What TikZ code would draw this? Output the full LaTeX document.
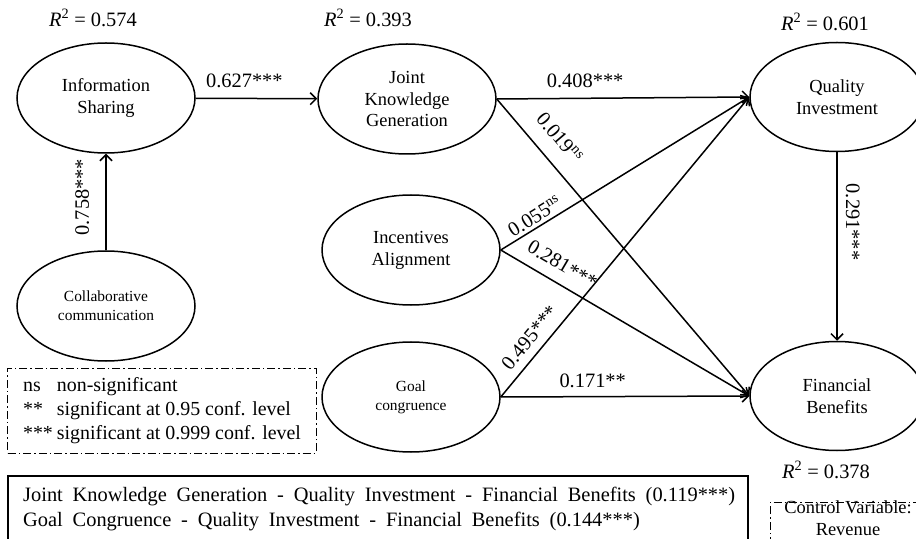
\documentclass[tikz,border=0pt]{standalone}
\usepackage{fontspec}
\setmainfont{Liberation Serif}
\usetikzlibrary{arrows.meta,shapes.geometric}
\tikzset{>={Straight Barb[length=6bp,width=12bp]}}
\tikzset{
	latent/.style={ellipse, draw, line width=1.5bp, minimum width=178bp, minimum height=110bp,
		inner sep=0pt, align=center, font=\fontsize{18.5}{22}\selectfont},
	smalltext/.style={font=\fontsize{15.5}{19}\selectfont},
	coef/.style={font=\fontsize{20.5}{24}\selectfont, inner sep=2bp},
	rsq/.style={font=\fontsize{20.5}{24}\selectfont},
	dashdot/.style={line width=1bp, dash pattern=on 8bp off 3bp on 1.5bp off 3bp},
	medline/.style={anchor=west, inner sep=0pt, font=\fontsize{20.5}{25}\selectfont},
}

\begin{document}
\begin{tikzpicture}[x=1bp, y=-1bp, link/.style={->, line width=1.5bp}]
	\useasboundingbox (0,0) rectangle (916,539);
	% constructs
	\node[latent] (is) at (106, 98) {Information\\Sharing};
	\node[latent, smalltext] (cc) at (106, 306) {Collaborative\\communication};
	\node[latent] (jkg) at (407, 99) {Joint\\Knowledge\\Generation};
	\node[latent] (ia) at (411, 250) {Incentives\\Alignment};
	\node[latent, smalltext] (gc) at (411, 397) {Goal\\congruence};
	\node[latent, minimum width=174bp, minimum height=109bp] (qi) at (837, 97) {Quality\\Investment};
	\node[latent, minimum width=174bp, minimum height=109bp] (fb) at (837, 396) {Financial\\Benefits};
	% explained variance
	\node[rsq] (r1) at (93, 18) {\textit{R}\textsuperscript{2} = 0.574};
	\node[rsq] (r2) at (368, 18) {\textit{R}\textsuperscript{2} = 0.393};
	\node[rsq] (r3) at (825, 22) {\textit{R}\textsuperscript{2} = 0.601};
	\node[rsq] (r4) at (826, 470) {\textit{R}\textsuperscript{2} = 0.378};
	% paths
	\draw[link] (cc) -- node[coef, sloped, above=14bp, pos=.55] {0.758***} (is);
	\draw[link] (is) -- node[coef, above=8bp, pos=.4] {0.627***} (jkg);
	\draw[link] (jkg.east) -- node[coef, above=8bp, pos=.35] {0.408***} (qi.west);
	\draw[link] (jkg.east) -- node[coef, sloped, above=13bp, pos=.18] {0.019\textsuperscript{ns}} (fb.west);
	\draw[link] (ia.east) -- node[coef, sloped, above=1bp, pos=.16] {0.055\textsuperscript{ns}} (qi.west);
	\draw[link] (ia.east) -- node[coef, sloped, above=9bp, pos=.21] {0.281***} (fb.west);
	\draw[link] (gc.east) -- node[coef, sloped, above=6bp, pos=.165] {0.495***} (qi.west);
	\draw[link] (gc.east) -- node[coef, above=6bp, pos=.37] {0.171**} (fb.west);
	\draw[link] (qi) -- node[coef, sloped, above=6bp, pos=.37] {0.291***} (fb);
	% key
	\node[draw, dashdot, minimum width=308bp, minimum height=85bp, inner sep=0pt,
		font=\fontsize{20}{24}\selectfont] (key) at (162, 410.5)
		{\begin{tabular}{@{}l@{\hspace{4bp}}l@{}}
			ns & non-significant\\
			{**} & significant at 0.95 conf. level\\
			{***} & significant at 0.999 conf. level
		\end{tabular}};
	% mediation effects
	\draw[line width=1.2bp] (8, 545) |- (748, 476) -- (748, 545);
	\node[medline] (med1) at (23, 497)
		{\spaceskip=9.8bp\relax Joint Knowledge Generation - Quality Investment - Financial Benefits (0.119***)};
	\node[medline] (med2) at (23, 522)
		{\spaceskip=9.8bp\relax Goal Congruence - Quality Investment - Financial Benefits (0.144***)};
	% control
	\draw[dashdot] (770, 545) |- (920, 502);
	\node[align=center, font=\fontsize{18.5}{22}\selectfont] (ctrl) at (848, 518) {Control Variable:\\Revenue};
\end{tikzpicture}
\end{document}
